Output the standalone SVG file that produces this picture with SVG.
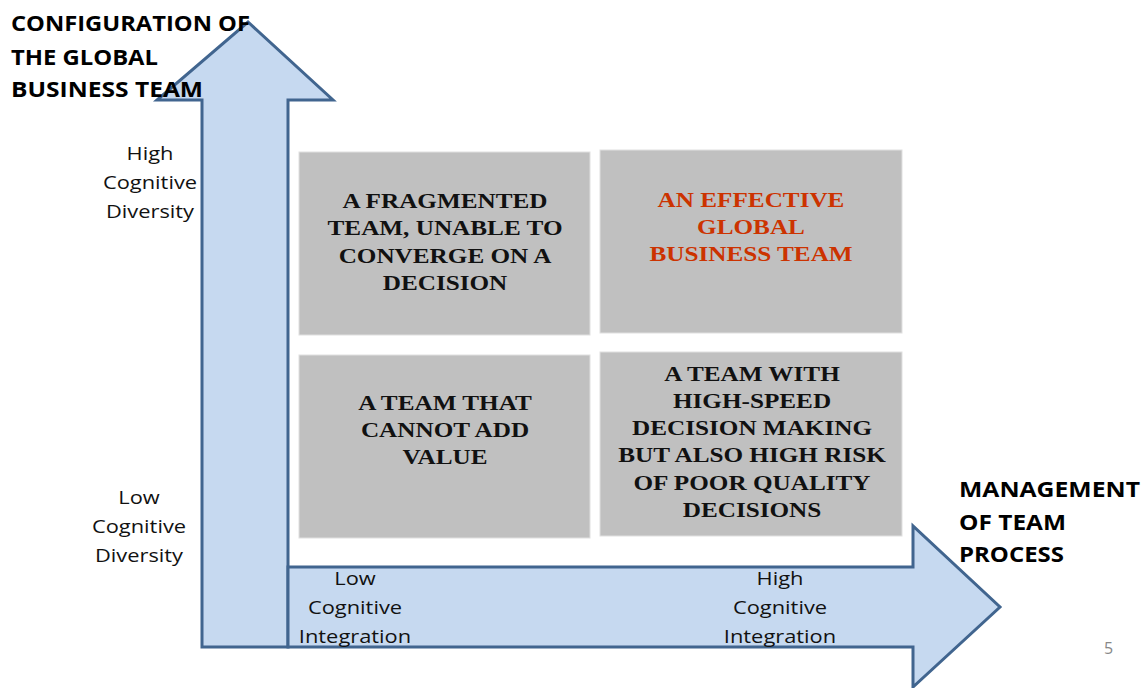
<svg xmlns="http://www.w3.org/2000/svg" width="1143" height="688" viewBox="0 0 1143 688">
<style>
.arrow{fill:#c6d9f0;stroke:#41658f;stroke-width:3;stroke-linejoin:miter}
.box{fill:#c0c0c0;stroke:#e0e0e0;stroke-width:1}
.bt{font-family:"Liberation Serif",serif;font-weight:bold;font-size:21px;text-anchor:middle;fill:#111}
.red{fill:#cc3300}
.lab{font-family:"Open Sans",sans-serif;font-size:19px;text-anchor:middle;fill:#111}
.ttl{font-family:"Open Sans",sans-serif;font-weight:bold;font-size:21px;fill:#000}
</style>
<rect width="1143" height="688" fill="#fff"/>
<g id="connectors">
<polygon id="v-arrow" class="arrow" points="202,647 202,100 157,100 248,22 333,100 288,100 288,647"/>
<polygon id="h-arrow" class="arrow" points="288,567 913,567 913,526 1000,607 913,687 913,647 288,647"/>
</g>
<g id="q-top-left">
<rect class="box" x="299" y="152" width="291" height="183"/>
<g transform="translate(445,0) scale(1.2,1)">
<text class="bt" x="0" y="208">A FRAGMENTED</text>
<text class="bt" x="0" y="235">TEAM, UNABLE TO</text>
<text class="bt" x="0" y="263">CONVERGE ON A</text>
<text class="bt" x="0" y="290">DECISION</text>
</g>
</g>
<g id="q-top-right">
<rect class="box" x="600" y="150" width="302" height="183"/>
<g transform="translate(751,0) scale(1.2,1)">
<text class="bt red" x="0" y="207">AN EFFECTIVE</text>
<text class="bt red" x="0" y="234">GLOBAL</text>
<text class="bt red" x="0" y="261">BUSINESS TEAM</text>
</g>
</g>
<g id="q-bottom-left">
<rect class="box" x="299" y="355" width="291" height="183"/>
<g transform="translate(445,0) scale(1.2,1)">
<text class="bt" x="0" y="410">A TEAM THAT</text>
<text class="bt" x="0" y="437">CANNOT ADD</text>
<text class="bt" x="0" y="464">VALUE</text>
</g>
</g>
<g id="q-bottom-right">
<rect class="box" x="600" y="352" width="302" height="184"/>
<g transform="translate(752,0) scale(1.2,1)">
<text class="bt" x="0" y="381">A TEAM WITH</text>
<text class="bt" x="0" y="408">HIGH-SPEED</text>
<text class="bt" x="0" y="435">DECISION MAKING</text>
<text class="bt" x="0" y="462">BUT ALSO HIGH RISK</text>
<text class="bt" x="0" y="490">OF POOR QUALITY</text>
<text class="bt" x="0" y="517">DECISIONS</text>
</g>
</g>
<g id="y-labels">
<g transform="translate(150,0) scale(1.15,1)">
<text class="lab" x="0" y="160">High</text>
<text class="lab" x="0" y="189">Cognitive</text>
<text class="lab" x="0" y="218">Diversity</text>
</g>
<g transform="translate(139,0) scale(1.15,1)">
<text class="lab" x="0" y="504">Low</text>
<text class="lab" x="0" y="533">Cognitive</text>
<text class="lab" x="0" y="562">Diversity</text>
</g>
</g>
<g id="x-labels">
<g transform="translate(355,0) scale(1.15,1)">
<text class="lab" x="0" y="585">Low</text>
<text class="lab" x="0" y="614">Cognitive</text>
<text class="lab" x="0" y="643">Integration</text>
</g>
<g transform="translate(780,0) scale(1.15,1)">
<text class="lab" x="0" y="585">High</text>
<text class="lab" x="0" y="614">Cognitive</text>
<text class="lab" x="0" y="643">Integration</text>
</g>
</g>
<g id="y-title">
<text class="ttl" x="11" y="31" textLength="239" lengthAdjust="spacingAndGlyphs">CONFIGURATION OF</text>
<text class="ttl" x="11" y="65" textLength="147" lengthAdjust="spacingAndGlyphs">THE GLOBAL</text>
<text class="ttl" x="11" y="97" textLength="192" lengthAdjust="spacingAndGlyphs">BUSINESS TEAM</text>
</g>
<g id="x-title">
<text class="ttl" x="959" y="497" textLength="181" lengthAdjust="spacingAndGlyphs">MANAGEMENT</text>
<text class="ttl" x="959" y="530" textLength="107" lengthAdjust="spacingAndGlyphs">OF TEAM</text>
<text class="ttl" x="959" y="562" textLength="105" lengthAdjust="spacingAndGlyphs">PROCESS</text>
</g>
<text x="1104" y="654" font-family="Open Sans, sans-serif" font-size="16" fill="#888">5</text>
</svg>
